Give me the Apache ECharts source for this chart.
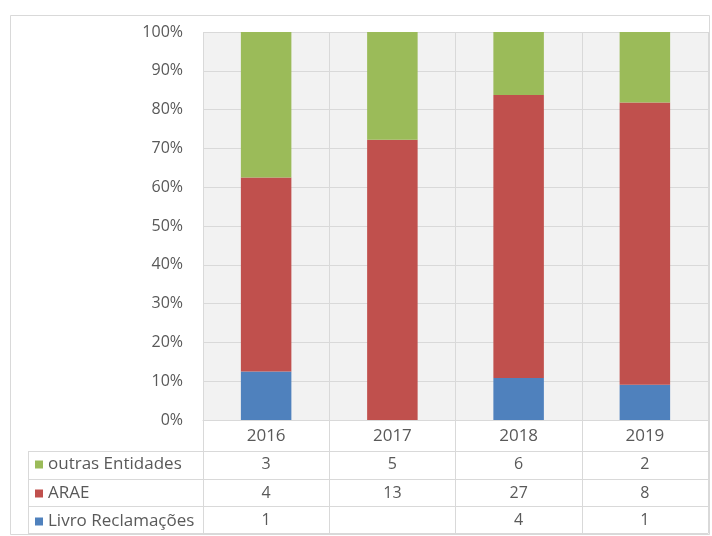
<!DOCTYPE html>
<html>
<head>
<meta charset="utf-8">
<script src="https://cdn.jsdelivr.net/npm/echarts@6/dist/echarts.min.js"></script>
<style>
  html, body { margin: 0; padding: 0; background: #ffffff; }
  #chart { width: 712px; height: 536px; }
</style>
</head>
<body>
<div id="chart"></div>
<script>
// data
var years = ["2016", "2017", "2018", "2019"];
var livro = [1, null, 4, 1];
var arae = [4, 13, 27, 8];
var outras = [3, 5, 6, 2];
var yTicks = [0, 10, 20, 30, 40, 50, 60, 70, 80, 90, 100];

var colors = {
  livro: "#4f81bd",
  arae: "#c0504d",
  outras: "#9bbb59"
};
var textColor = "#595959";
var lineColor = "#d9d9d9";
var font = "'Open Sans', sans-serif";

// share of each year total, in %
function share(arr) {
  return arr.map(function (v, i) {
    if (v == null) return null;
    var total = (livro[i] || 0) + (arae[i] || 0) + (outras[i] || 0);
    return (v / total) * 100;
  });
}

// one axis per row of the data table, labels are the raw counts
function tableAxis(values, offset, margin, tickLen) {
  return {
    type: "category",
    position: "bottom",
    gridIndex: 0,
    offset: offset,
    data: values.map(function (v) { return v == null ? "" : String(v); }),
    axisLine: { show: true, lineStyle: { color: lineColor } },
    axisTick: { show: true, length: tickLen, lineStyle: { color: lineColor } },
    axisLabel: {
      margin: margin,
      color: textColor,
      fontSize: 16,
      fontFamily: font,
      interval: 0
    },
    splitLine: { show: false }
  };
}

function rowLegend(name, top) {
  return {
    data: [name],
    orient: "vertical",
    left: 35,
    top: top,
    padding: 0,
    icon: "rect",
    itemWidth: 8,
    itemHeight: 8,
    selectedMode: false,
    textStyle: { color: textColor, fontSize: 17, fontFamily: font }
  };
}

var chart = echarts.init(document.getElementById("chart"));

var option = {
  animation: false,
  backgroundColor: "#ffffff",
  grid: {
    left: 203,
    right: 4,
    top: 32,
    bottom: 116,
    show: true,
    backgroundColor: "#f2f2f2",
    borderWidth: 0
  },
  legend: [
    rowLegend("outras Entidades", 456),
    rowLegend("ARAE", 485),
    rowLegend("Livro Reclamações", 513)
  ],
  xAxis: [
    {
      type: "category",
      data: years,
      axisLine: { show: true, lineStyle: { color: lineColor } },
      axisTick: { show: true, length: 31, lineStyle: { color: lineColor } },
      axisLabel: { margin: 8, color: textColor, fontSize: 17, fontFamily: font },
      splitLine: { show: true, lineStyle: { color: lineColor } }
    },
    tableAxis(outras, 31, 5, 28),
    tableAxis(arae, 59, 6, 27),
    tableAxis(livro, 86, 6, 27),
    {
      type: "category",
      position: "bottom",
      offset: 113,
      data: years,
      axisLine: { show: true, lineStyle: { color: lineColor } },
      axisTick: { show: false },
      axisLabel: { show: false }
    }
  ],
  yAxis: {
    type: "value",
    min: yTicks[0],
    max: yTicks[yTicks.length - 1],
    interval: 10,
    axisLine: { show: false },
    axisTick: { show: false },
    axisLabel: {
      formatter: "{value}%",
      margin: 20,
      color: textColor,
      fontSize: 16,
      fontFamily: font
    },
    splitLine: { show: true, lineStyle: { color: lineColor } }
  },
  graphic: [
    // outer chart frame
    {
      type: "rect",
      shape: { x: 10.5, y: 15.5, width: 699, height: 519 },
      style: { fill: null, stroke: lineColor, lineWidth: 1 },
      silent: true
    },
    // left part of the data table
    { type: "line", shape: { x1: 28, y1: 451.5, x2: 203, y2: 451.5 }, style: { stroke: lineColor }, silent: true },
    { type: "line", shape: { x1: 28, y1: 479.5, x2: 203, y2: 479.5 }, style: { stroke: lineColor }, silent: true },
    { type: "line", shape: { x1: 28, y1: 506.5, x2: 203, y2: 506.5 }, style: { stroke: lineColor }, silent: true },
    { type: "line", shape: { x1: 28, y1: 533.5, x2: 203, y2: 533.5 }, style: { stroke: lineColor }, silent: true },
    { type: "line", shape: { x1: 28.5, y1: 451, x2: 28.5, y2: 534 }, style: { stroke: lineColor }, silent: true }
  ],
  series: [
    {
      name: "Livro Reclamações",
      type: "bar",
      stack: "total",
      barWidth: "40%",
      data: share(livro),
      itemStyle: { color: colors.livro }
    },
    {
      name: "ARAE",
      type: "bar",
      stack: "total",
      data: share(arae),
      itemStyle: { color: colors.arae }
    },
    {
      name: "outras Entidades",
      type: "bar",
      stack: "total",
      data: share(outras),
      itemStyle: { color: colors.outras }
    }
  ]
};

chart.setOption(option);
</script>
</body>
</html>
